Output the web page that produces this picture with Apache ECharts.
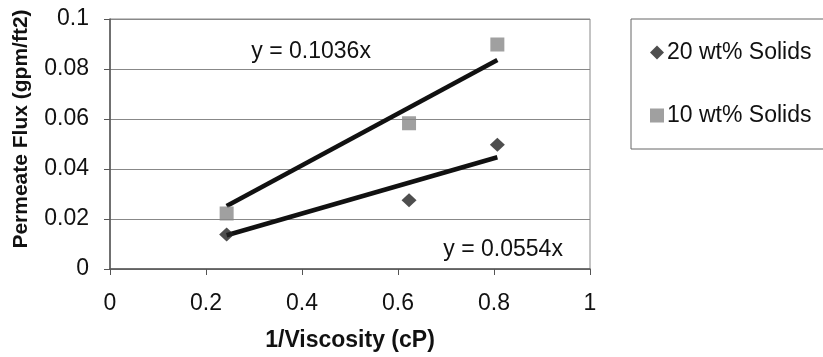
<!DOCTYPE html>
<html><head><meta charset="utf-8">
<script src="https://cdn.jsdelivr.net/npm/echarts@6/dist/echarts.min.js"></script>
<style>html,body{margin:0;padding:0;background:#fff}#c{width:823px;height:357px}</style>
</head><body><div id="c"></div>
<script>
const seriesNames = ['20 wt% Solids', '10 wt% Solids'];
const xValues = [0.243, 0.623, 0.807];
const flux20 = [0.0138, 0.0275, 0.0497];
const flux10 = [0.0222, 0.0583, 0.0898];
const trendX = [0.243, 0.807];
const trend20 = [0.0135, 0.0447];
const trend10 = [0.0252, 0.0836];
const eq20 = 'y = 0.0554x';
const eq10 = 'y = 0.1036x';
const eq10Pos = [0.419, 0.0871];
const eq20Pos = [0.819, 0.0079];
const xTicks = [0, 0.2, 0.4, 0.6, 0.8, 1];
const yTicks = [0, 0.02, 0.04, 0.06, 0.08, 0.1];

const font = 'Liberation Sans, Arial, sans-serif';
const zip = (xs, ys) => xs.map((x, i) => [x, ys[i]]);

const chart = echarts.init(document.getElementById('c'));
chart.setOption({
  animation: false,
  backgroundColor: '#fff',
  textStyle: { fontFamily: font },
  grid: { left: 110, right: 233, top: 19, bottom: 85, show: true, borderColor: '#888', borderWidth: 1 },
  legend: {
    orient: 'vertical', left: 631, top: 19,
    padding: [22, 30, 22, 19], itemGap: 40,
    borderColor: '#666', borderWidth: 1,
    itemWidth: 14, itemHeight: 14,
    textStyle: { fontSize: 23, color: '#111', fontFamily: font, padding: [0, 0, 0, -2] },
    data: [
      { name: seriesNames[0], icon: 'diamond' },
      { name: seriesNames[1], icon: 'rect' }
    ]
  },
  xAxis: {
    type: 'value', min: xTicks[0], max: xTicks[xTicks.length - 1], interval: 0.2,
    name: '1/Viscosity (cP)', nameLocation: 'middle', nameGap: 60,
    nameTextStyle: { fontSize: 23, fontWeight: 'bold', color: '#111', fontFamily: font },
    axisLine: { show: true, onZero: false, lineStyle: { color: '#555', width: 1.5 } },
    axisTick: { show: true, length: 6, lineStyle: { color: '#555' } },
    axisLabel: { fontSize: 23, color: '#111', margin: 23, fontFamily: font },
    splitLine: { show: false }
  },
  yAxis: {
    type: 'value', min: yTicks[0], max: yTicks[yTicks.length - 1], interval: 0.02,
    name: 'Permeate Flux (gpm/ft2)', nameLocation: 'middle', nameGap: 78,
    nameTextStyle: { fontSize: 21, fontWeight: 'bold', color: '#111', fontFamily: font, padding: [0, 0, 0, 30] },
    axisLine: { show: true, onZero: false, lineStyle: { color: '#555', width: 1.5 } },
    axisTick: { show: true, length: 6, inside: false, lineStyle: { color: '#555' } },
    axisLabel: { fontSize: 23, color: '#111', margin: 21, fontFamily: font },
    splitLine: { show: true, lineStyle: { color: '#888', width: 1 } }
  },
  series: [
    {
      name: 'trend10', type: 'line', data: zip(trendX, trend10), symbol: 'none',
      lineStyle: { color: '#111', width: 4.5 }, z: 3, silent: true,
      markPoint: {
        symbol: 'circle', symbolSize: 0,
        label: { show: true, formatter: eq10, fontSize: 23, color: '#111', fontFamily: font, position: 'inside' },
        data: [{ coord: eq10Pos }]
      }
    },
    {
      name: 'trend20', type: 'line', data: zip(trendX, trend20), symbol: 'none',
      lineStyle: { color: '#111', width: 4.5 }, z: 3, silent: true,
      markPoint: {
        symbol: 'circle', symbolSize: 0,
        label: { show: true, formatter: eq20, fontSize: 23, color: '#111', fontFamily: font, position: 'inside' },
        data: [{ coord: eq20Pos }]
      }
    },
    {
      name: seriesNames[0], type: 'scatter', data: zip(xValues, flux20),
      symbol: 'diamond', symbolSize: [15, 14], itemStyle: { color: '#222' }, z: 4
    },
    {
      name: seriesNames[1], type: 'scatter', data: zip(xValues, flux10),
      symbol: 'rect', symbolSize: 14, itemStyle: { color: '#888' }, z: 4
    }
  ]
});
</script></body></html>
